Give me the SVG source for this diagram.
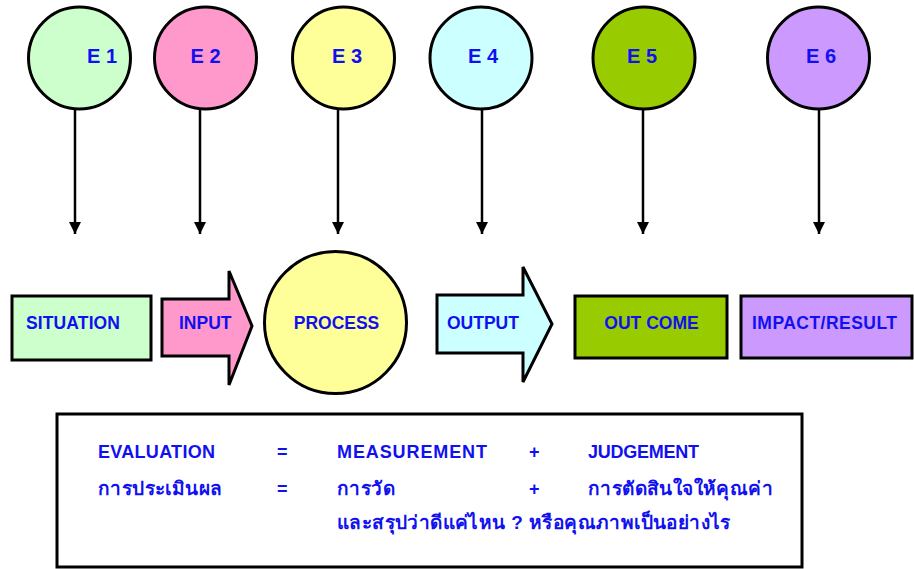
<svg xmlns="http://www.w3.org/2000/svg" width="914" height="569" viewBox="0 0 914 569">
<style>
.sh{stroke:#000;stroke-width:3}
.t{font-family:"Liberation Sans","Noto Sans",sans-serif;font-weight:bold;fill:#1010F0}
.e{font-size:20px;text-anchor:middle}
.b{font-size:17.5px}
.m{font-size:18px}
.th{font-size:19px;letter-spacing:0.4px}
.ln{stroke:#000;stroke-width:2.5;fill:none}
</style>
<defs>
<marker id="ah" markerWidth="12" markerHeight="12" viewBox="0 0 12 12" refX="12" refY="6" orient="auto" markerUnits="userSpaceOnUse">
<path d="M0,0 L12,6 L0,12 Z" fill="#000"/>
</marker>
</defs>
<rect width="914" height="569" fill="#fff"/>
<g id="connectors">
<line class="ln" x1="75" y1="109" x2="75" y2="234" marker-end="url(#ah)"/>
<line class="ln" x1="200" y1="109" x2="200" y2="234" marker-end="url(#ah)"/>
<line class="ln" x1="338" y1="109" x2="338" y2="234" marker-end="url(#ah)"/>
<line class="ln" x1="482" y1="109" x2="482" y2="234" marker-end="url(#ah)"/>
<line class="ln" x1="643" y1="109" x2="643" y2="234" marker-end="url(#ah)"/>
<line class="ln" x1="819" y1="109" x2="819" y2="234" marker-end="url(#ah)"/>
</g>
<g id="e1"><circle class="sh" cx="79.5" cy="58" r="51" fill="#CCFFCC"/><text class="t e" x="102" y="63">E 1</text></g>
<g id="e2"><circle class="sh" cx="205.5" cy="58" r="51" fill="#FF99CC"/><text class="t e" x="205.5" y="63">E 2</text></g>
<g id="e3"><circle class="sh" cx="343.5" cy="58" r="51" fill="#FFFF99"/><text class="t e" x="347" y="63">E 3</text></g>
<g id="e4"><circle class="sh" cx="481" cy="58" r="51" fill="#CCFFFF"/><text class="t e" x="483" y="63">E 4</text></g>
<g id="e5"><circle class="sh" cx="644" cy="58" r="51" fill="#99CC00"/><text class="t e" x="642" y="63">E 5</text></g>
<g id="e6"><circle class="sh" cx="818.5" cy="58" r="51" fill="#CC99FF"/><text class="t e" x="821" y="63">E 6</text></g>
<g id="situation"><rect class="sh" x="12" y="296" width="139" height="64" fill="#CCFFCC"/><text class="t b" x="26" y="329" textLength="94">SITUATION</text></g>
<g id="input"><path class="sh" d="M162,299 L229,299 L229,271 L252,326 L229,385 L229,356 L162,356 Z" fill="#FF99CC"/><text class="t b" x="179" y="329">INPUT</text></g>
<g id="process"><circle class="sh" cx="335.5" cy="322.5" r="71" fill="#FFFF99"/><text class="t b" x="336.5" y="329" text-anchor="middle">PROCESS</text></g>
<g id="output"><path class="sh" d="M437,295 L523,295 L523,267 L552,324 L523,382 L523,353 L437,353 Z" fill="#CCFFFF"/><text class="t b" x="447" y="329">OUTPUT</text></g>
<g id="outcome"><rect class="sh" x="575" y="296" width="152" height="62" fill="#99CC00"/><text class="t b" x="651.5" y="329" text-anchor="middle">OUT COME</text></g>
<g id="impact"><rect class="sh" x="741" y="296" width="171" height="62" fill="#CC99FF"/><text class="t b" x="752" y="329" textLength="145">IMPACT/RESULT</text></g>
<g id="definition">
<rect class="sh" x="57" y="414" width="745" height="153" fill="#fff"/>
<text class="t m" x="98" y="458" textLength="117">EVALUATION</text>
<text class="t m" x="277" y="458">=</text>
<text class="t m" x="337" y="458" textLength="150">MEASUREMENT</text>
<text class="t m" x="529" y="458">+</text>
<text class="t m" x="588" y="458" textLength="111">JUDGEMENT</text>
<text class="t th" x="98" y="495">การประเมินผล</text>
<text class="t m" x="277" y="495">=</text>
<text class="t th" x="337" y="495">การวัด</text>
<text class="t m" x="529" y="495">+</text>
<text class="t th" x="588" y="495">การตัดสินใจให้คุณค่า</text>
<text class="t th" x="337" y="529">และสรุปว่าดีแค่ไหน ? หรือคุณภาพเป็นอย่างไร</text>
</g>
</svg>
